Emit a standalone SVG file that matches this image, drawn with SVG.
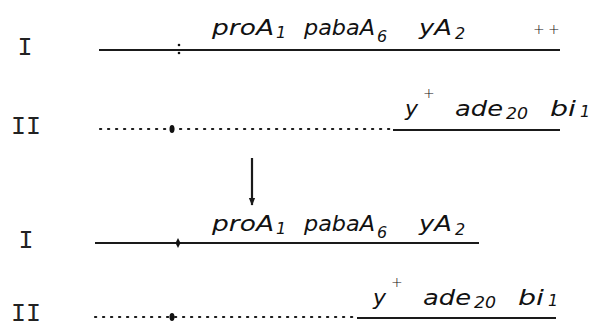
<svg xmlns="http://www.w3.org/2000/svg" width="601" height="329" viewBox="0 0 601 329">
<defs>
<style>
.roman{font-family:"Liberation Mono","DejaVu Sans Mono",monospace;font-size:25px;fill:#222;text-anchor:middle}
.gene{font-family:"DejaVu Sans","Liberation Sans",sans-serif;font-weight:200;font-style:italic;font-size:22px;fill:#111}
.sub{font-family:"DejaVu Sans","Liberation Sans",sans-serif;font-weight:200;font-style:italic;font-size:16px;fill:#111}
.plus{font-family:"DejaVu Sans","Liberation Sans",sans-serif;font-weight:200;font-size:14px;fill:#111}
.solid{stroke:#1a1a1a;stroke-width:2;fill:none}
.dots{stroke:#1a1a1a;stroke-width:2.2;stroke-dasharray:1.2 6.8;stroke-linecap:round;fill:none}
.cen{fill:#111}
</style>
<marker id="ah" viewBox="0 0 10 10" refX="9" refY="5" markerWidth="8" markerHeight="8" orient="auto" markerUnits="userSpaceOnUse">
<path d="M0,1 L10,5 L0,9 Z" fill="#1a1a1a"/>
</marker>
</defs>
<rect width="601" height="329" fill="#fff"/>

<g id="chromosome-I-before">
<text class="roman" x="25" y="55">I</text>
<line class="solid" x1="99" y1="50" x2="560" y2="50"/>
<circle class="cen" cx="179" cy="45" r="1.3"/>
<circle class="cen" cx="179" cy="53" r="1.3"/>
<text class="gene" x="212" y="35" textLength="62" lengthAdjust="spacingAndGlyphs">proA</text>
<text class="sub" x="276" y="38">1</text>
<text class="gene" x="304" y="35" textLength="71" lengthAdjust="spacingAndGlyphs">pabaA</text>
<text class="sub" x="377" y="42">6</text>
<text class="gene" x="419" y="35" textLength="33" lengthAdjust="spacingAndGlyphs">yA</text>
<text class="sub" x="455" y="39">2</text>
<text class="plus" x="533" y="34">+</text>
<text class="plus" x="548" y="34">+</text>
</g>

<g id="chromosome-II-before">
<text class="roman" x="26" y="134">II</text>
<line class="dots" x1="100" y1="129" x2="390" y2="129"/>
<line class="solid" x1="393" y1="130" x2="560" y2="130"/>
<ellipse class="cen" cx="172" cy="129" rx="2.5" ry="4"/>
<text class="gene" x="405" y="116">y</text>
<text class="plus" x="423" y="98">+</text>
<text class="gene" x="455" y="116" textLength="48" lengthAdjust="spacingAndGlyphs">ade</text>
<text class="sub" x="506" y="119" textLength="22" lengthAdjust="spacingAndGlyphs">20</text>
<text class="gene" x="550" y="116" textLength="26" lengthAdjust="spacingAndGlyphs">bi</text>
<text class="sub" x="580" y="117">1</text>
</g>

<g id="connectors">
<line class="solid" x1="252" y1="158" x2="252" y2="205" marker-end="url(#ah)" style="stroke-width:2.2"/>
</g>

<g id="chromosome-I-after">
<text class="roman" x="26" y="248">I</text>
<line class="solid" x1="95" y1="243" x2="479" y2="243"/>
<path class="cen" d="M178,238 L180.5,243 L178,248 L175.5,243 Z"/>
<text class="gene" x="212" y="231" textLength="62" lengthAdjust="spacingAndGlyphs">proA</text>
<text class="sub" x="276" y="234">1</text>
<text class="gene" x="304" y="231" textLength="71" lengthAdjust="spacingAndGlyphs">pabaA</text>
<text class="sub" x="377" y="238">6</text>
<text class="gene" x="419" y="231" textLength="33" lengthAdjust="spacingAndGlyphs">yA</text>
<text class="sub" x="455" y="235">2</text>
</g>

<g id="chromosome-II-after">
<text class="roman" x="26" y="321">II</text>
<line class="dots" x1="95" y1="317" x2="354" y2="317"/>
<line class="solid" x1="357" y1="318" x2="556" y2="318"/>
<ellipse class="cen" cx="172" cy="317" rx="2.5" ry="4"/>
<text class="gene" x="373" y="305">y</text>
<text class="plus" x="391" y="287">+</text>
<text class="gene" x="423" y="305" textLength="48" lengthAdjust="spacingAndGlyphs">ade</text>
<text class="sub" x="474" y="308" textLength="22" lengthAdjust="spacingAndGlyphs">20</text>
<text class="gene" x="518" y="305" textLength="26" lengthAdjust="spacingAndGlyphs">bi</text>
<text class="sub" x="548" y="306">1</text>
</g>
</svg>
